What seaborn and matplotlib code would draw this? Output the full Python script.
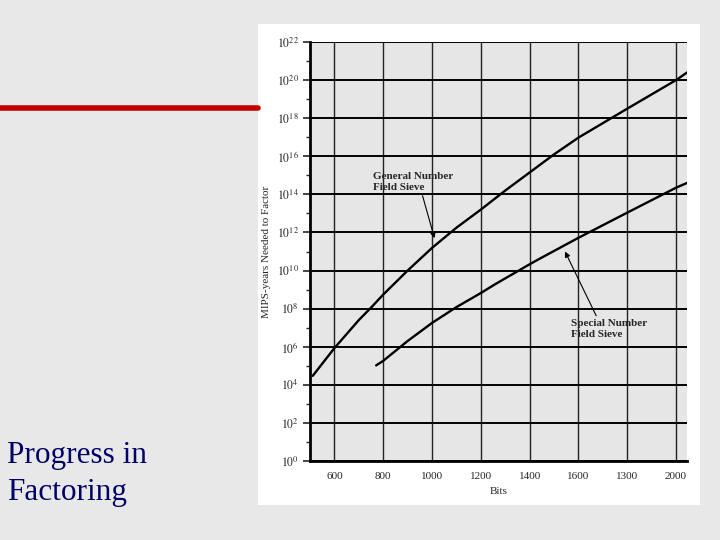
import matplotlib

matplotlib.use("Agg")
import matplotlib.pyplot as plt
import matplotlib.ticker as mticker
import numpy as np
import pandas as pd
import seaborn as sns

# values (log10 of MIPS-years)
gnfs_bits = [511, 600, 700, 755, 800, 900, 1000, 1100, 1200, 1300, 1400, 1500, 1600, 1800, 2000, 2045]
gnfs_log = [4.47, 5.93, 7.4, 8.12, 8.74, 10.0, 11.19, 12.25, 13.2, 14.2, 15.15, 16.1, 16.98, 18.5, 20.0, 20.4]
snfs_bits = [771, 800, 900, 1000, 1100, 1200, 1261, 1400, 1438, 1600, 1800, 2000, 2045]
snfs_log = [5.02, 5.26, 6.3, 7.25, 8.08, 8.82, 9.3, 10.33, 10.6, 11.72, 13.04, 14.35, 14.6]

x_ticks = [600, 800, 1000, 1200, 1400, 1600, 1800, 2000]
x_tick_labels = ["600", "800", "1000", "1200", "1400", "1600", "1300", "2000"]

df = pd.concat([
    pd.DataFrame({"bits": gnfs_bits, "mips": 10.0 ** np.array(gnfs_log), "method": "GNFS"}),
    pd.DataFrame({"bits": snfs_bits, "mips": 10.0 ** np.array(snfs_log), "method": "SNFS"}),
])

sns.set_style("white")
plt.rcParams["font.family"] = ["Liberation Serif", "DejaVu Serif"]
plt.rcParams["mathtext.fontset"] = "stix"

fig = plt.figure(figsize=(7.2, 5.4), dpi=100)
fig.patch.set_facecolor("#e8e8e8")

# white panel holding the scanned figure
panel = fig.add_axes([0.358, 0.065, 0.614, 0.891])
panel.set_facecolor("white")
panel.set_xticks([])
panel.set_yticks([])
for s in panel.spines.values():
    s.set_visible(False)

# red rule and slide title
fig.add_artist(plt.Line2D([0, 0.358], [0.8, 0.8], color="#c00000", lw=4))
fig.text(0.01, 0.062, "Progress in\nFactoring", color="#000066", fontsize=22.5,
         ha="left", va="bottom", linespacing=1.35)

ax = fig.add_axes([0.4306, 0.1463, 0.5236, 0.7759])
ax.set_facecolor("#e6e6e6")
sns.lineplot(data=df, x="bits", y="mips", units="method", estimator=None,
             color="black", lw=1.7, ax=ax, legend=False)
ax.set_yscale("log")
ax.set_xlim(500, 2045)
ax.set_ylim(1, 1e22)

ax.set_xticks(x_ticks)
ax.set_xticklabels(x_tick_labels, fontsize=8)
ax.set_yticks([10.0 ** k for k in range(0, 23, 2)])
ax.set_yticklabels([f"$10^{{{k}}}$" for k in range(0, 23, 2)], fontsize=8.5)
ax.yaxis.set_minor_locator(mticker.FixedLocator([10.0 ** k for k in range(1, 22, 2)]))
ax.yaxis.set_minor_formatter(mticker.NullFormatter())
ax.tick_params(axis="y", which="major", left=True, length=5, width=1.2, direction="out", pad=3)
ax.tick_params(axis="y", which="minor", left=True, length=3, width=1, direction="out")
ax.tick_params(axis="x", length=0, pad=8)

ax.grid(axis="y", which="major", color="black", lw=1.4)
ax.grid(axis="x", which="major", color="#222222", lw=1.0)
ax.set_axisbelow(True)

for side in ["top", "right"]:
    ax.spines[side].set_visible(False)
for side in ["left", "bottom"]:
    ax.spines[side].set_linewidth(2)
    ax.spines[side].set_color("black")

ax.set_xlabel("Bits", fontsize=8, labelpad=4)
ax.set_ylabel("MIPS-years Needed to Factor", fontsize=8, labelpad=4)

ax.annotate("General Number\nField Sieve", xy=(1010, 10 ** 11.7), xytext=(760, 10 ** 14.1),
            fontsize=8, fontweight="bold", ha="left", va="bottom", linespacing=1.3,
            arrowprops=dict(arrowstyle="-|>", color="black", lw=0.8, mutation_scale=8,
                            shrinkA=0, shrinkB=0, relpos=(0.6, 0.0)))
ax.annotate("Special Number\nField Sieve", xy=(1545, 10 ** 11.0), xytext=(1570, 10 ** 6.4),
            fontsize=8, fontweight="bold", ha="left", va="bottom", linespacing=1.3,
            arrowprops=dict(arrowstyle="-|>", color="black", lw=0.8, mutation_scale=8,
                            shrinkA=0, shrinkB=0, relpos=(0.35, 1.0)))

fig.savefig("out.png", dpi=100, facecolor=fig.get_facecolor())
